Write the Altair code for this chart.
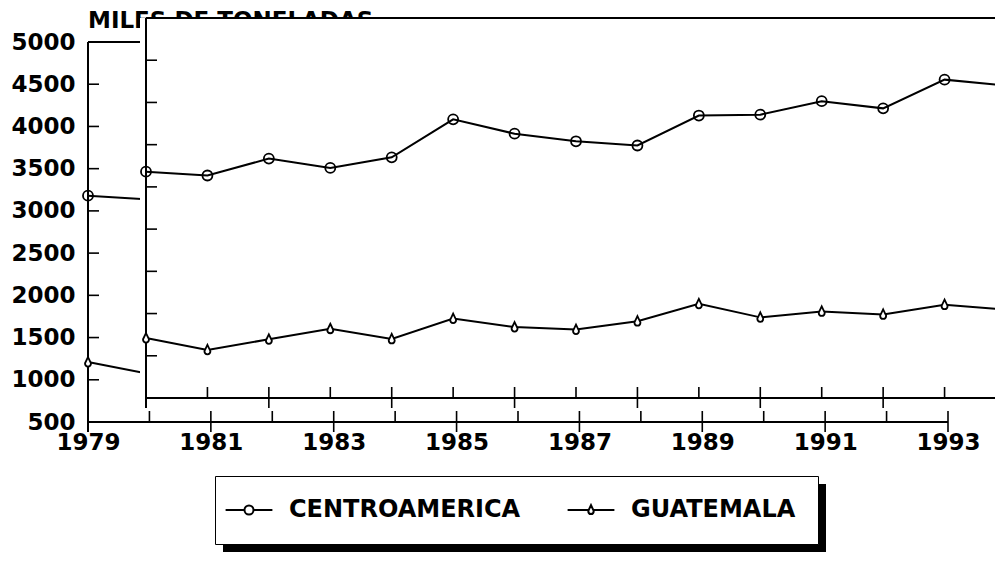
import altair as alt
import pandas as pd

# ---- data ----
years = [1979, 1980, 1981, 1982, 1983, 1984, 1985, 1986, 1987, 1988, 1989, 1990, 1991, 1992, 1993]
centroamerica = [3180, 3135, 3335, 3225, 3350, 3800, 3630, 3540, 3490, 3845, 3855, 4015, 3930, 4270, 4200]
guatemala = [1210, 1070, 1195, 1320, 1200, 1440, 1340, 1310, 1410, 1615, 1455, 1525, 1490, 1605, 1545]
series_names = ["CENTROAMERICA", "GUATEMALA"]
y_label_values = [500, 1000, 1500, 2000, 2500, 3000, 3500, 4000, 4500, 5000]
y_tick_values = [1000, 1500, 2000, 2500, 3000, 3500, 4000, 4500]
x_major_years = [1979, 1981, 1983, 1985, 1987, 1989, 1991, 1993]
x_minor_years = [1980, 1982, 1984, 1986, 1988, 1990, 1992]
unit_title = "MILES DE TONELADAS"

FONT = "DejaVu Sans"
X0, X1 = years[0], years[-1]
Y0, Y1 = y_label_values[0], y_label_values[-1]

xs = alt.Scale(domain=[X0, X1], nice=False, zero=False)
ys = alt.Scale(domain=[Y0, Y1], nice=False, zero=False)

XAX = alt.Axis(values=x_major_years, format="d", domain=False, ticks=False, grid=False,
               labelFont=FONT, labelFontWeight="bold", labelFontSize=23, labelColor="black",
               labelPadding=9, labelFlush=False, title=None)
YAX = alt.Axis(values=y_label_values, format="d", domain=False, ticks=False, grid=False,
               labelFont=FONT, labelFontWeight="bold", labelFontSize=23, labelColor="black",
               labelPadding=13, title=None)

n = len(years)
df = pd.DataFrame({
    "year": years + years,
    "value": centroamerica + guatemala,
    "series": [series_names[0]] * n + [series_names[1]] * n,
})
one = pd.DataFrame({"k": [0]})
ytk = pd.DataFrame({"v": y_tick_values})
xmaj = pd.DataFrame({"yr": x_major_years})
xmin = pd.DataFrame({"yr": x_minor_years})

point_path_gua = "M0,-1L0.6,0.25Q0.6,0.9,0,0.9Q-0.6,0.9,-0.6,0.25Z"
legend_path_ca = "M-2.6,0H-0.5M0.5,0H2.6M-0.5,0A0.5,0.5,0,1,1,0.5,0A0.5,0.5,0,1,1,-0.5,0Z"
legend_path_gua = "M-2.6,0H-0.3M0.3,0H2.6M0,-0.55L0.3,0.1Q0.3,0.45,0,0.45Q-0.3,0.45,-0.3,0.1Z"


def xd(v):
    return alt.XDatum(v, scale=xs, axis=XAX)


def yd(v):
    return alt.YDatum(v, scale=ys, axis=YAX)


def frame(dx, dy, ext):
    r = dict(color="black", strokeWidth=2)
    left = alt.Chart(one).mark_rule(**r, xOffset=dx, yOffset=dy + 10, y2Offset=dy).encode(
        x=xd(X0), y=yd(Y0), y2=alt.Y2Datum(Y1))
    bottom = alt.Chart(one).mark_rule(**r, xOffset=dx, x2Offset=dx + ext, yOffset=dy).encode(
        x=xd(X0), x2=alt.X2Datum(X1), y=yd(Y0))
    top = alt.Chart(one).mark_rule(**r, xOffset=dx, x2Offset=dx + ext, yOffset=dy).encode(
        x=xd(X0), x2=alt.X2Datum(X1), y=yd(Y1))
    yt = alt.Chart(ytk).mark_rule(color="black", strokeWidth=1.6, xOffset=dx, x2Offset=dx + 11, yOffset=dy).encode(
        x=xd(X0), x2=alt.X2Datum(X0), y=alt.Y("v:Q", scale=ys, axis=YAX))
    xM = alt.Chart(xmaj).mark_rule(color="black", strokeWidth=1.6, xOffset=dx, yOffset=dy + 10, y2Offset=dy - 11).encode(
        x=alt.X("yr:Q", scale=xs, axis=XAX), y=yd(Y0), y2=alt.Y2Datum(Y0))
    xm = alt.Chart(xmin).mark_rule(color="black", strokeWidth=1.6, xOffset=dx, yOffset=dy, y2Offset=dy - 11).encode(
        x=alt.X("yr:Q", scale=xs, axis=XAX), y=yd(Y0), y2=alt.Y2Datum(Y0))
    return [left, bottom, top, yt, xM, xm]


def data_layers(dx, dy):
    enc_x = alt.X("year:Q", scale=xs, axis=XAX)
    enc_y = alt.Y("value:Q", scale=ys, axis=YAX)
    line = alt.Chart(df).mark_line(color="black", strokeWidth=2, xOffset=dx, yOffset=dy).encode(
        x=enc_x, y=enc_y, detail="series:N")
    pts = alt.Chart(df).mark_point(color="black", size=100, strokeWidth=1.8, opacity=1, xOffset=dx, yOffset=dy).encode(
        x=enc_x, y=enc_y,
        shape=alt.Shape("series:N", scale=alt.Scale(domain=series_names, range=["circle", point_path_gua]), legend=None),
        fill=alt.Fill("series:N", scale=alt.Scale(domain=series_names, range=["transparent", "white"]), legend=None))
    return [line, pts]


DX, DY = 58, -24

title_txt = alt.Chart(one).mark_text(text=unit_title, align="left", baseline="alphabetic", dy=-14,
                                     font=FONT, fontWeight="bold", fontSize=23, color="black").encode(
    x=xd(X0), y=yd(Y1))

cover = alt.Chart(one).mark_rect(color="white", opacity=1, xOffset=DX - 6, x2Offset=DX + 200, yOffset=DY, y2Offset=DY).encode(
    x=xd(X0), x2=alt.X2Datum(X1), y=yd(Y0), y2=alt.Y2Datum(Y1))

legend_layer = alt.Chart(df).transform_filter("false").mark_point(
    color="black", filled=False, size=324, strokeWidth=2, opacity=1).encode(
    x=alt.X("year:Q", scale=xs, axis=XAX), y=alt.Y("value:Q", scale=ys, axis=YAX),
    shape=alt.Shape("series:N", scale=alt.Scale(domain=series_names, range=[legend_path_ca, legend_path_gua]),
                    legend=alt.Legend(title=None, orient="none", legendX=127, legendY=434, direction="horizontal",
                                      padding=22, strokeColor="black", fillColor="white",
                                      labelFont=FONT, labelFontWeight="bold", labelFontSize=24, labelColor="black",
                                      labelOffset=28, columnPadding=42, labelLimit=400,
                                      symbolSize=324, symbolStrokeWidth=2, symbolStrokeColor="black",
                                      symbolFillColor="transparent", symbolOpacity=1)))

shadow = alt.Chart(one).mark_rect(color="black", opacity=1).encode(
    x=alt.value(135), x2=alt.value(738), y=alt.value(442), y2=alt.value(510))

layers = (frame(0, 0, 0) + [title_txt] + data_layers(0, 0) + [cover]
          + frame(DX, DY, 200) + data_layers(DX, DY) + [legend_layer, shadow])

chart = alt.layer(*layers).resolve_scale(shape="independent", fill="independent").properties(
    width=860, height=380, autosize="none",
    padding={"left": 80, "top": 34, "right": 47, "bottom": 155},
    background="white",
).configure_view(stroke=None)

chart.save("out.html", embed_options={"renderer": "svg", "actions": False})
